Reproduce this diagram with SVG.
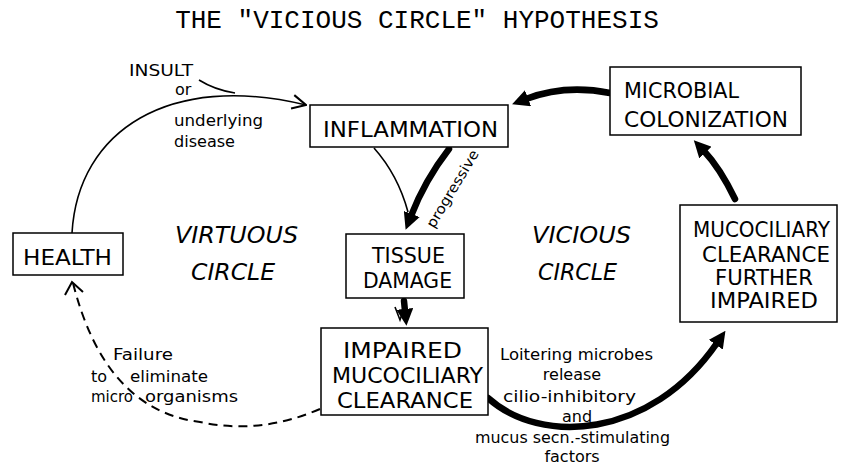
<svg xmlns="http://www.w3.org/2000/svg" width="841" height="465" viewBox="0 0 841 465">
<defs>
<style>
.box{fill:#fff;stroke:#000;stroke-width:1.5}
.lbl{font-family:"DejaVu Sans","Liberation Sans",sans-serif;fill:#000}
.big{font-size:21px}
.it{font-size:23px;font-style:italic}
.sm{font-size:16px}
.ins{font-size:16px}
.thin{fill:none;stroke:#000;stroke-width:1.6}
.thick{fill:none;stroke:#000;stroke-width:6.5;stroke-linecap:round}
.dash{fill:none;stroke:#000;stroke-width:2;stroke-dasharray:9 6}
</style>
<marker id="solid" viewBox="0 0 16 16" refX="2" refY="8" markerWidth="17" markerHeight="17" markerUnits="userSpaceOnUse" orient="auto">
<path d="M0,0 L16,8 L0,16 Z" fill="#000"/>
</marker>
<marker id="open" viewBox="0 0 14 14" refX="13" refY="7" markerWidth="16" markerHeight="16" markerUnits="userSpaceOnUse" orient="auto">
<path d="M1,1 L13,7 L1,13" fill="none" stroke="#000" stroke-width="1.8"/>
</marker>
</defs>
<rect width="841" height="465" fill="#fff"/>
<text x="417" y="28" text-anchor="middle" font-family="'Liberation Mono','Courier New',monospace" font-size="26" fill="#000">THE "VICIOUS CIRCLE" HYPOTHESIS</text>

<g id="connectors">
<path class="thin" d="M72,233 C78,130 170,72 306,105" marker-end="url(#open)"/>
<path class="thin" d="M199,80 Q215,90 235,93"/>
<path class="thin" d="M374,148 Q398,175 408,212"/>
<path class="thick" d="M449,149 Q425,180 411,216" marker-end="url(#solid)"/>
<path class="thick" d="M610,93 Q565,84 526,99" marker-end="url(#solid)"/>
<path class="thick" d="M735,199 Q720,168 704,151" marker-end="url(#solid)"/>
<path class="thick" d="M488,398 C540,445 650,440 717,343" marker-end="url(#solid)"/>
<path class="thick" d="M404,301 L405,311" marker-end="url(#solid)"/>
<path class="thin" d="M395,307 L400,320 L404,308"/>
<path class="dash" d="M320,409 Q260,435 200,422 Q105,410 73,283"/>
<path d="M65,295 L72,282 L83,292" fill="none" stroke="#000" stroke-width="2"/>
</g>

<g id="insult">
<text class="lbl ins" x="129" y="76" textLength="64" lengthAdjust="spacingAndGlyphs">INSULT</text>
<text class="lbl ins" x="175" y="95">or</text>
<text class="lbl ins" x="174" y="126" textLength="89" lengthAdjust="spacingAndGlyphs">underlying</text>
<text class="lbl ins" x="174" y="147" textLength="61" lengthAdjust="spacingAndGlyphs">disease</text>
</g>

<g id="inflammation">
<rect class="box" x="310" y="105" width="198" height="42"/>
<text class="lbl big" x="323" y="137" textLength="175" lengthAdjust="spacingAndGlyphs">INFLAMMATION</text>
</g>

<g id="microbial-colonization">
<rect class="box" x="610" y="67" width="191" height="68"/>
<text class="lbl big" x="624" y="98" textLength="115" lengthAdjust="spacingAndGlyphs">MICROBIAL</text>
<text class="lbl big" x="624" y="127" textLength="164" lengthAdjust="spacingAndGlyphs">COLONIZATION</text>
</g>

<g id="health">
<rect class="box" x="13" y="233" width="110" height="42"/>
<text class="lbl big" x="23" y="265" textLength="89" lengthAdjust="spacingAndGlyphs">HEALTH</text>
</g>

<g id="tissue-damage">
<rect class="box" x="346" y="234" width="118" height="64"/>
<text class="lbl big" x="372" y="263" textLength="73" lengthAdjust="spacingAndGlyphs">TISSUE</text>
<text class="lbl big" x="363" y="288" textLength="89" lengthAdjust="spacingAndGlyphs">DAMAGE</text>
</g>

<g id="impaired-mucociliary-clearance">
<rect class="box" x="321" y="328" width="167" height="87"/>
<text class="lbl big" x="343" y="358" textLength="119" lengthAdjust="spacingAndGlyphs">IMPAIRED</text>
<text class="lbl big" x="332" y="383" textLength="151" lengthAdjust="spacingAndGlyphs">MUCOCILIARY</text>
<text class="lbl big" x="337" y="408" textLength="136" lengthAdjust="spacingAndGlyphs">CLEARANCE</text>
</g>

<g id="mucociliary-further-impaired">
<rect class="box" x="680" y="205" width="157" height="117"/>
<text class="lbl big" x="693" y="237" textLength="137" lengthAdjust="spacingAndGlyphs">MUCOCILIARY</text>
<text class="lbl big" x="702" y="262" textLength="128" lengthAdjust="spacingAndGlyphs">CLEARANCE</text>
<text class="lbl big" x="715" y="285" textLength="98" lengthAdjust="spacingAndGlyphs">FURTHER</text>
<text class="lbl big" x="710" y="308" textLength="108" lengthAdjust="spacingAndGlyphs">IMPAIRED</text>
</g>

<g id="virtuous-circle">
<text class="lbl it" x="175" y="243" textLength="123" lengthAdjust="spacingAndGlyphs">VIRTUOUS</text>
<text class="lbl it" x="191" y="280" textLength="84" lengthAdjust="spacingAndGlyphs">CIRCLE</text>
</g>

<g id="vicious-circle">
<text class="lbl it" x="532" y="243" textLength="99" lengthAdjust="spacingAndGlyphs">VICIOUS</text>
<text class="lbl it" x="538" y="280" textLength="79" lengthAdjust="spacingAndGlyphs">CIRCLE</text>
</g>

<g id="progressive-label">
<text class="lbl" font-size="14" transform="translate(434,229) rotate(-59)" textLength="88" lengthAdjust="spacingAndGlyphs">progressive</text>
</g>

<g id="failure-label">
<text class="lbl sm" x="113" y="360" textLength="60" lengthAdjust="spacingAndGlyphs">Failure</text>
<text class="lbl sm" x="91" y="382">to</text>
<text class="lbl sm" x="130" y="382" textLength="78" lengthAdjust="spacingAndGlyphs">eliminate</text>
<text class="lbl sm" x="91" y="402" textLength="42" lengthAdjust="spacingAndGlyphs">micro</text>
<text class="lbl sm" x="145" y="402" textLength="93" lengthAdjust="spacingAndGlyphs">organisms</text>
</g>

<g id="loitering-label">
<text class="lbl sm" x="500" y="360" textLength="153" lengthAdjust="spacingAndGlyphs">Loitering microbes</text>
<text class="lbl sm" x="572" y="380" text-anchor="middle">release</text>
<text class="lbl sm" x="503" y="402" textLength="133" lengthAdjust="spacingAndGlyphs">cilio-inhibitory</text>
<text class="lbl sm" x="577" y="422" text-anchor="middle">and</text>
<text class="lbl sm" x="475" y="443" textLength="195" lengthAdjust="spacingAndGlyphs">mucus secn.-stimulating</text>
<text class="lbl sm" x="572" y="462" text-anchor="middle">factors</text>
</g>
</svg>
